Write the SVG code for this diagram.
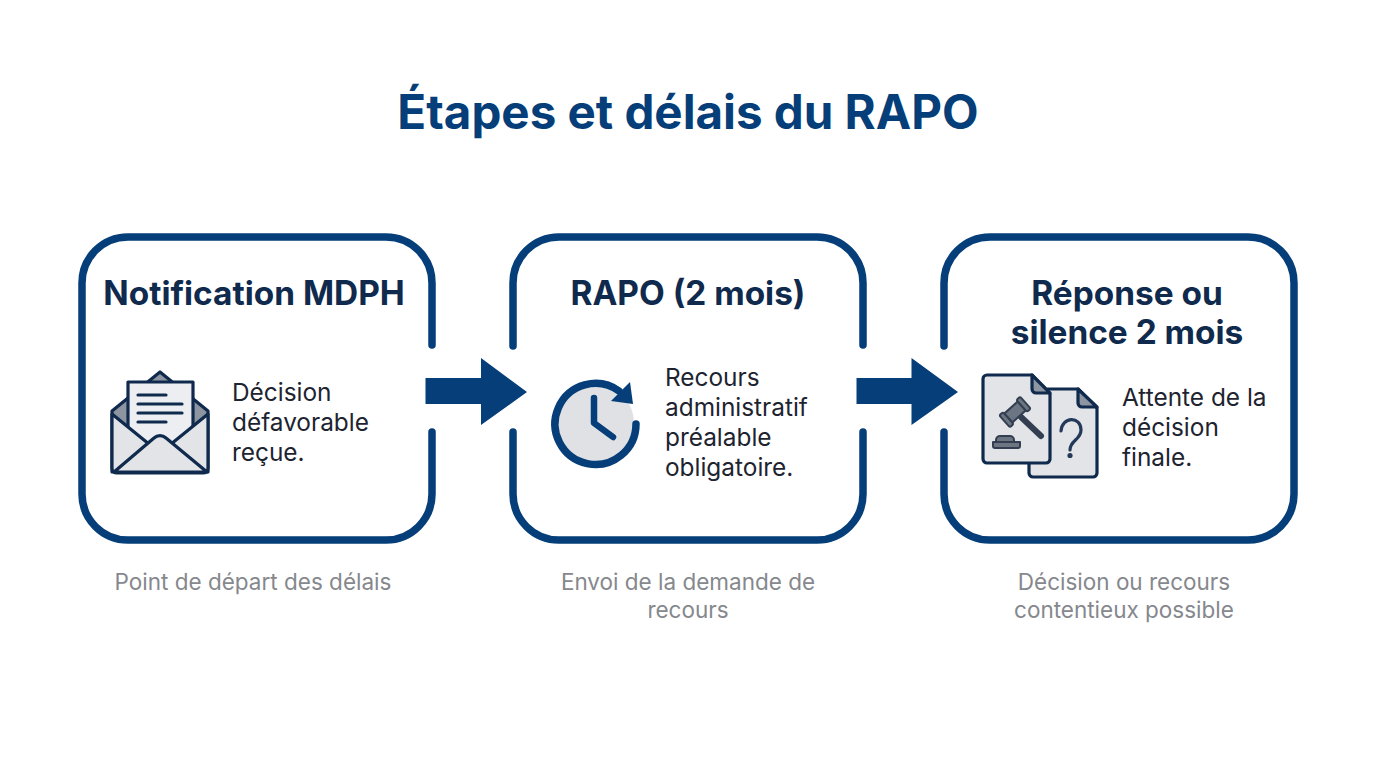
<svg xmlns="http://www.w3.org/2000/svg" width="1376" height="768" viewBox="0 0 1376 768">
<style>
text{font-family:Inter,"Liberation Sans",sans-serif}
.t{font-size:47.500px;font-weight:700;fill:#053e78;text-anchor:middle}
.h{font-size:33.400px;font-weight:700;fill:#0f2a4d;text-anchor:middle}
.b{font-size:24.400px;fill:#1d2430}
.c{font-size:22.500px;fill:#85888d;text-anchor:middle}
.box{fill:none;stroke:#053e78;stroke-width:7.500;stroke-linecap:round;stroke-linejoin:round}
.ic{stroke:#0f2a4d;stroke-width:3.200;stroke-linejoin:round;stroke-linecap:round}
.f{fill:#e2e4e8}.g{fill:#8d95a1}.w{fill:#eceef1}
</style>
<rect width="1376" height="768" fill="#fff"/>
<text class="t" x="688" y="128.500">Étapes et délais du RAPO</text>
<g id="node-notification">
<path class="box" d="M432 345V283a46 46 0 0 0-46-46H128a46 46 0 0 0-46 46V494a46 46 0 0 0 46 46H386a46 46 0 0 0 46-46V432"/>
<text class="h" x="254" y="304.500">Notification MDPH</text>
<g class="ic">
<path class="g" d="M112 411 160 372l48 39V472H112Z"/>
<rect class="w" x="128" y="382" width="65" height="78"/>
<path class="f" d="M112 414 160 453l48-39V468a5 5 0 0 1-5 5H117a5 5 0 0 1-5-5Z"/>
<path fill="none" d="M138 395H166M138 404H182M138 413H182M138 422H166"/>
<path class="f" d="M114 472 154 438a9 9 0 0 1 12 0L207 472Z"/>
</g>
<text class="b"><tspan x="232" y="401">Décision</tspan><tspan x="232" y="431">défavorable</tspan><tspan x="232" y="461">reçue.</tspan></text>
<text class="c" x="253" y="590">Point de départ des délais</text>
</g>
<g id="node-rapo">
<path class="box" d="M863 345V283a46 46 0 0 0-46-46H559a46 46 0 0 0-46 46V346M513 432V494a46 46 0 0 0 46 46H817a46 46 0 0 0 46-46V432"/>
<text class="h" x="688" y="304.500">RAPO (2 mois)</text>
<circle cx="594" cy="423" r="40" fill="#dfe1e4"/>
<path d="M636 424A40.500 40.500 0 1 1 619 391" fill="none" stroke="#053e78" stroke-width="7.500" stroke-linecap="round"/>
<path d="M630 382 633 404 611 401Z" fill="#053e78"/>
<path d="M594 398V423L613 437" fill="none" stroke="#053e78" stroke-width="6.500" stroke-linecap="round" stroke-linejoin="round"/>
<text class="b"><tspan x="665" y="386">Recours</tspan><tspan x="665" y="416">administratif</tspan><tspan x="665" y="446">préalable</tspan><tspan x="665" y="476">obligatoire.</tspan></text>
<text class="c"><tspan x="688" y="590">Envoi de la demande de</tspan><tspan x="688" y="618">recours</tspan></text>
</g>
<g id="node-reponse">
<path class="box" d="M944 346V283a46 46 0 0 1 46-46H1248a46 46 0 0 1 46 46V494a46 46 0 0 1-46 46H990a46 46 0 0 1-46-46V432"/>
<text class="h"><tspan x="1127" y="304.500">Réponse ou</tspan><tspan x="1127" y="343.500">silence 2 mois</tspan></text>
<g class="ic">
<path class="f" d="M1048 389H1078L1097 408V473a4 4 0 0 1-4 4H1033a4 4 0 0 1-4-4V460Z"/>
<path class="g" d="M1078 389V403a4 4 0 0 0 4 4H1097Z"/>
<path class="f" d="M987 375H1032L1050 394V459a4 4 0 0 1-4 4H987a4 4 0 0 1-4-4V379a4 4 0 0 1 4-4Z"/>
<path class="g" d="M1032 375V389a4 4 0 0 0 4 4H1050Z"/>
</g>
<path d="M1021 417 1041 436" fill="none" stroke="#333f50" stroke-width="6" stroke-linecap="round"/>
<g stroke="#333f50" stroke-width="2" stroke-linejoin="round" fill="#6c7683">
<g transform="translate(1015 412) rotate(-42)">
<rect x="-9" y="-6" width="18" height="12"/>
<rect x="-14" y="-8" width="5" height="16" rx="2"/>
<rect x="9" y="-8" width="5" height="16" rx="2"/>
</g>
<path d="M996 440a4 4 0 0 1 4-4H1010a4 4 0 0 1 4 4V442H996ZM993 442H1020V446a2 2 0 0 1-2 2H995a2 2 0 0 1-2-2Z"/>
</g>
<path d="M1061 431C1062 416 1081 416 1081 430C1081 440 1070 440 1070 450" fill="none" stroke="#24395a" stroke-width="3.200" stroke-linecap="round"/>
<circle cx="1070" cy="455.500" r="2.600" fill="#24395a"/>
<text class="b"><tspan x="1122" y="406">Attente de la</tspan><tspan x="1122" y="436">décision</tspan><tspan x="1122" y="466">finale.</tspan></text>
<text class="c"><tspan x="1124" y="590">Décision ou recours</tspan><tspan x="1124" y="618">contentieux possible</tspan></text>
</g>
<g id="connectors" fill="#053e78">
<path d="M425.500 378H481V358L527 392 481 425V404H425.500Z"/>
<path d="M856.500 378H911.500V358L958 392 911.500 425V404H856.500Z"/>
</g>
</svg>
